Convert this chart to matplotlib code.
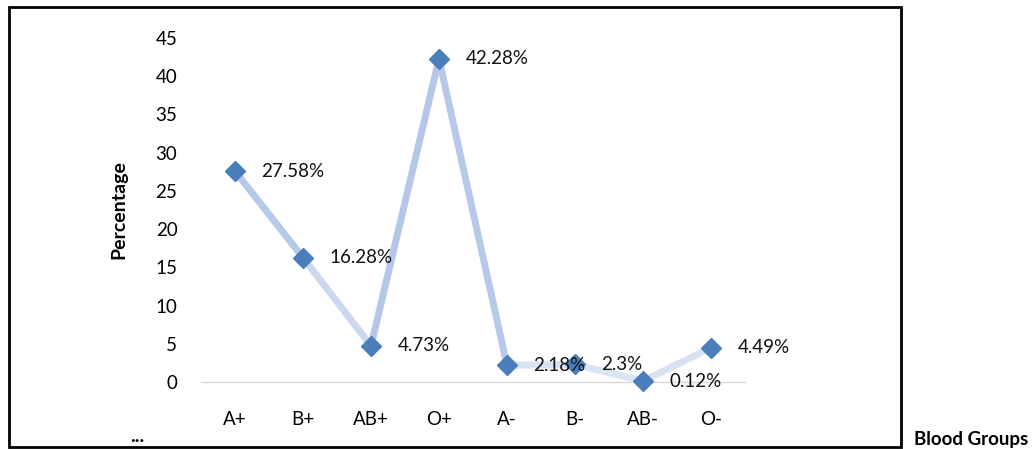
import matplotlib.pyplot as plt
import numpy as np
from matplotlib.collections import LineCollection
from matplotlib.patches import Rectangle
from matplotlib.colors import LinearSegmentedColormap

groups = ['A+', 'B+', 'AB+', 'O+', 'A-', 'B-', 'AB-', 'O-']
percent = [27.58, 16.28, 4.73, 42.28, 2.18, 2.3, 0.12, 4.49]
labels = ['27.58%', '16.28%', '4.73%', '42.28%', '2.18%', '2.3%', '0.12%', '4.49%']

plt.rcParams['font.family'] = ['Lato', 'DejaVu Sans']

fig = plt.figure(figsize=(10.33, 4.49), dpi=100)
ax = fig.add_axes([201 / 1033, 67 / 449, 544 / 1033, 344 / 449])

x = np.arange(len(groups))
# line: light blue, darker where it is higher up
pts = np.column_stack([x, percent])
segs = np.stack([pts[:-1], pts[1:]], axis=1)
cmap = LinearSegmentedColormap.from_list('fade', ['#dde5f3', '#a9bfe6'])
mid = (np.array(percent[:-1]) + np.array(percent[1:])) / 2
lc = LineCollection(segs, colors=cmap(mid / 30), linewidths=5, capstyle='round',
                    joinstyle='round', zorder=2)
ax.add_collection(lc)
ax.plot(x, percent, linestyle='none', marker='D', markersize=10,
        color='#4a7ebb', markeredgecolor='#4a7ebb', zorder=3, clip_on=False)

for xi, v, t in zip(x, percent, labels):
    ax.annotate(t, (xi, v), xytext=(19, 0), textcoords='offset points',
                ha='left', va='center', fontsize=13.5, color='#111111')

ax.set_xlim(-0.5, 7.5)
ax.set_ylim(0, 45)
ax.set_yticks(range(0, 46, 5))
ax.set_xticks(x)
ax.set_xticklabels(groups)
ax.tick_params(length=0, labelsize=13.5)
ax.tick_params(axis='y', pad=17)
ax.tick_params(axis='x', pad=21)
for s in ['top', 'right', 'left']:
    ax.spines[s].set_visible(False)
ax.spines['bottom'].set_color('#d9d9d9')
ax.spines['bottom'].set_linewidth(1)

ax.set_ylabel('Percentage', fontsize=14, fontweight='bold')
ax.yaxis.set_label_coords(-0.136, 0.5)

fig.patches.append(Rectangle((9 / 1033, 2 / 449), 892 / 1033, 440 / 449,
                             transform=fig.transFigure, fill=False,
                             edgecolor='black', linewidth=2))
fig.text(137 / 1033, 1 - 436 / 449, '...', fontsize=14, fontweight='bold',
         ha='center', va='center')
fig.text(914 / 1033, 1 - 440 / 449, 'Blood Groups', fontsize=13.5,
         fontweight='bold', ha='left', va='center')

fig.savefig('out.png', dpi=100)
